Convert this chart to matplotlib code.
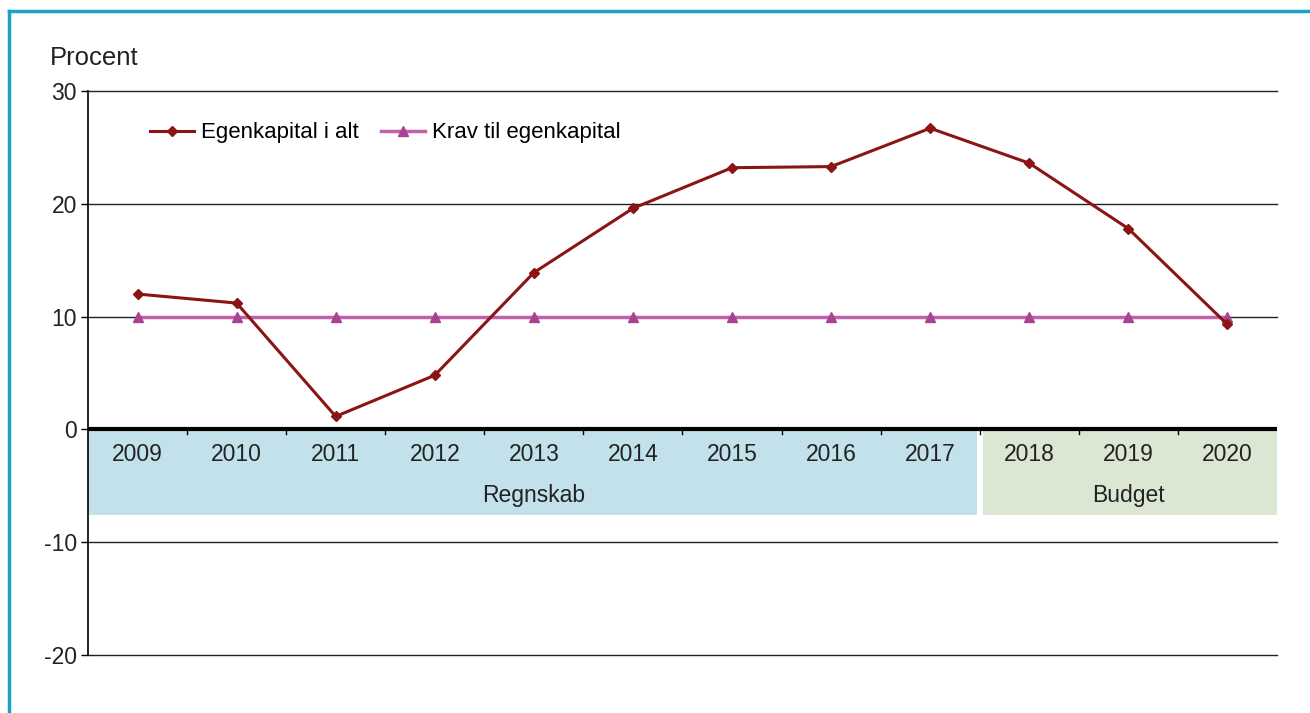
import matplotlib
matplotlib.use("Agg")
import matplotlib.pyplot as plt
from matplotlib.patches import Rectangle

plt.rcParams['font.family'] = ['Liberation Sans', 'DejaVu Sans']

years = ['2009', '2010', '2011', '2012', '2013', '2014', '2015', '2016', '2017',
         '2018', '2019', '2020']
egenkapital = [12.0, 11.2, 1.15, 4.8, 13.9, 19.6, 23.2, 23.3, 26.7, 23.6, 17.8, 9.3]
krav = [10, 10, 10, 10, 10, 10, 10, 10, 10, 10, 10, 10]
groups = ['Regnskab', 'Budget']
group_sizes = [9, 3]
group_colors = ['#c3e1ea', '#dce7d3']

W, H = 1310, 713
fig = plt.figure(figsize=(W / 100, H / 100), dpi=100)
ax = fig.add_axes([88 / W, 1 - 655 / H, (1277 - 88) / W, (655 - 91) / H])

x = list(range(len(years)))
txt = '#222222'

# shaded category bands below zero
start = 0
for name, n, c in zip(groups, group_sizes, group_colors):
    left = start - 0.5 + (0.03 if start > 0 else 0)
    right = start + n - 0.5 - (0.03 if start + n < len(years) else 0)
    ax.add_patch(Rectangle((left, -7.6), right - left, 7.6, facecolor=c,
                           edgecolor='none', zorder=1))
    ax.text((start + start + n - 1) / 2, -5.9, name, ha='center', va='center',
            fontsize=16.5, color=txt, zorder=3)
    start += n

for xi, yr in zip(x, years):
    ax.text(xi, -2.2, yr, ha='center', va='center', fontsize=16.5,
            color=txt, zorder=3)

for g in [30, 20, 10, -10, -20]:
    ax.axhline(g, color='#222222', lw=1.0, zorder=2, clip_on=False)
ax.axhline(0, color='black', lw=3, zorder=4)

ax.plot(x, krav, color='#c061aa', lw=2.5, marker='^', markersize=7,
        markerfacecolor='#a8448f', markeredgecolor='#a8448f',
        label='Krav til egenkapital', zorder=5)
ax.plot(x, egenkapital, color='#8b1414', lw=2.2, marker='D', markersize=5,
        label='Egenkapital i alt', zorder=6)

ax.set_xlim(-0.5, len(years) - 0.5)
ax.set_ylim(-20, 30)
ax.set_yticks([-20, -10, 0, 10, 20, 30])
ax.set_yticklabels(['-20', '-10', '0', '10', '20', '30'], fontsize=16.5,
                   color=txt)
ax.set_xticks([])
ax.tick_params(axis='y', length=5, width=1, pad=3)
for s in ['top', 'right', 'bottom']:
    ax.spines[s].set_visible(False)
ax.spines['left'].set_linewidth(1.2)
ax.spines['left'].set_zorder(4)

# small ticks at category boundaries on zero line
for b in range(1, len(years)):
    ax.plot([b - 0.5, b - 0.5], [0, -0.4], color='black', lw=1, zorder=4)

h, l = ax.get_legend_handles_labels()
ax.legend(h[::-1], l[::-1], loc='upper left', bbox_to_anchor=(0.035, 0.98),
          ncol=2, frameon=False, handlelength=2.0,
          columnspacing=1.0, handletextpad=0.3, prop={'size': 16})

fig.text(50 / W, 1 - 58 / H, 'Procent', fontsize=18.5, color=txt,
         ha='left', va='center')

# teal frame
fig.add_artist(plt.Line2D([9 / W, 9 / W], [0, 1 - 11 / H], color='#1ba3c6',
                          lw=2.5, transform=fig.transFigure))
fig.add_artist(plt.Line2D([9 / W, 1], [1 - 11 / H, 1 - 11 / H], color='#1ba3c6',
                          lw=2.5, transform=fig.transFigure))

fig.savefig('out.png', dpi=100)
